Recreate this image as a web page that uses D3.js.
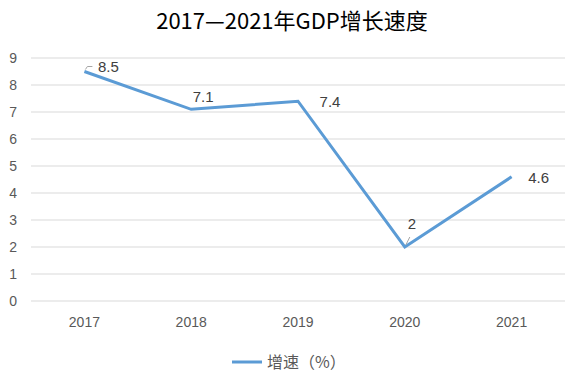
<!DOCTYPE html>
<html>
<head>
<meta charset="utf-8">
<script src="https://cdn.jsdelivr.net/npm/d3@7"></script>
<style>
  body { margin: 0; background: #fff; }
  text { font-family: "Liberation Sans", "Noto Sans CJK SC", sans-serif; }
</style>
</head>
<body>
<div id="chart"></div>
<script>
const years = ["2017", "2018", "2019", "2020", "2021"];
const growth = [8.5, 7.1, 7.4, 2, 4.6];
const yTicks = [0, 1, 2, 3, 4, 5, 6, 7, 8, 9];
// label offsets relative to the point (dx, dy) and whether a leader line is drawn
const labelPos = [[24, -5], [12, -13], [32, 1], [7, -23], [27, 1]];
const leaders = [true, false, false, true, false];

const width = 585, height = 390;
const margin = { top: 58, right: 20, bottom: 89, left: 31 };

const svg = d3.select("#chart").append("svg")
  .attr("width", width).attr("height", height);

const x = d3.scaleBand().domain(years).range([margin.left, width - margin.right]);
const y = d3.scaleLinear().domain([0, 9]).range([height - margin.bottom, margin.top]);

// title
svg.append("text")
  .attr("x", 292).attr("y", 29)
  .attr("text-anchor", "middle")
  .attr("font-size", 22)
  .attr("fill", "#000")
  .style("font-family", "'Noto Sans CJK SC', sans-serif")
  .text("2017—2021年GDP增长速度");

// grid
svg.append("g").selectAll("line")
  .data(yTicks).enter().append("line")
  .attr("x1", margin.left).attr("x2", width - margin.right)
  .attr("y1", d => y(d)).attr("y2", d => y(d))
  .attr("stroke", "#d9d9d9").attr("stroke-width", 1);

// y axis labels
const yAxis = svg.append("g")
  .attr("transform", `translate(${margin.left - 9},0)`)
  .call(d3.axisLeft(y).tickValues(yTicks).tickSize(0).tickPadding(5));
yAxis.select(".domain").remove();
yAxis.selectAll("text").attr("font-size", 14).attr("fill", "#595959")
  .style("font-family", "'Liberation Sans', sans-serif");

// x axis labels
const xAxis = svg.append("g")
  .attr("transform", `translate(0,${y(0) + 11})`)
  .call(d3.axisBottom(x).tickSize(0).tickPadding(5));
xAxis.select(".domain").remove();
xAxis.selectAll("text").attr("font-size", 14).attr("fill", "#595959")
  .style("font-family", "'Liberation Sans', sans-serif");

const pts = years.map((yr, i) => ({ yr, v: growth[i], i }));
const cx = d => x(d.yr) + x.bandwidth() / 2;

// line
svg.append("path")
  .datum(pts)
  .attr("fill", "none")
  .attr("stroke", "#5b9bd5")
  .attr("stroke-width", 3)
  .attr("d", d3.line().x(cx).y(d => y(d.v)));

// leader lines
pts.filter(d => leaders[d.i]).forEach(d => {
  const px = cx(d), py = y(d.v);
  let path;
  if (d.i === 0) path = `M${px + 1},${py - 2} L${px + 3},${py - 5} L${px + 8},${py - 5}`;
  else path = `M${px + 1},${py - 2} L${px + 5},${py - 10}`;
  svg.append("path").attr("d", path)
    .attr("fill", "none").attr("stroke", "#a6a6a6").attr("stroke-width", 1);
});

// data labels
svg.append("g").selectAll("text")
  .data(pts).enter().append("text")
  .attr("x", d => cx(d) + labelPos[d.i][0])
  .attr("y", d => y(d.v) + labelPos[d.i][1])
  .attr("dy", "0.35em")
  .attr("text-anchor", "middle")
  .attr("font-size", 15)
  .attr("fill", "#404040")
  .style("font-family", "'Liberation Sans', sans-serif")
  .text(d => d.v);

// legend
const lg = svg.append("g");
lg.append("line")
  .attr("x1", 232).attr("x2", 262).attr("y1", 362).attr("y2", 362)
  .attr("stroke", "#5b9bd5").attr("stroke-width", 3);
lg.append("text")
  .attr("x", 267).attr("y", 362).attr("dy", "0.35em")
  .attr("font-size", 16).attr("fill", "#595959")
  .style("font-family", "'Noto Sans CJK SC', sans-serif")
  .text("增速（%）");
</script>
</body>
</html>
